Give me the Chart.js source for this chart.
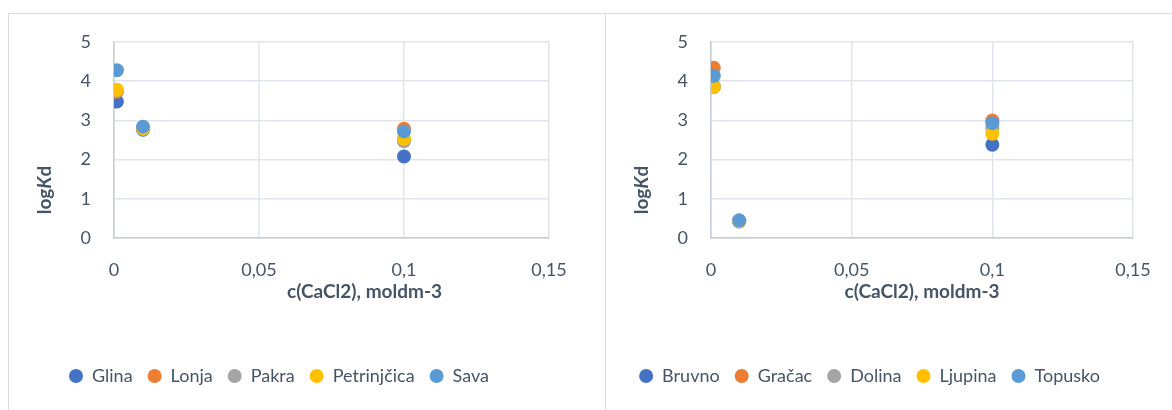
<!DOCTYPE html>
<html lang="hr">
<head>
  <meta charset="UTF-8">
  <title>logKd - c(CaCl2)</title>
  <script src="https://cdn.jsdelivr.net/npm/chart.js"></script>
  <style>
    html, body {
      margin: 0;
      padding: 0;
      background: #fff;
      width: 1172px;
      height: 410px;
      overflow: hidden;
    }
    .box {
      position: absolute;
      top: 13px;
      height: 410px;
      border: 1px solid #d9dce1;
      box-sizing: border-box;
    }
    #boxLeft { left: 8px; width: 598px; }
    #boxRight { left: 605px; width: 580px; }
    .wrap {
      position: relative;
      width: 100%;
      height: 396px;
    }
  </style>
</head>
<body>
  <div class="box" id="boxLeft"><div class="wrap"><canvas id="leftChart"></canvas></div></div>
  <div class="box" id="boxRight"><div class="wrap"><canvas id="rightChart"></canvas></div></div>

  <script>
    // x values (c(CaCl2), moldm-3), shared by both charts
    const xValues = [0.001, 0.01, 0.1];
    const xTicks = [0, 0.05, 0.1, 0.15];
    const xTickLabels = ['0', '0,05', '0,1', '0,15'];
    const yTicks = [0, 1, 2, 3, 4, 5];

    // left chart - rivers
    const leftNames = ['Glina', 'Lonja', 'Pakra', 'Petrinjčica', 'Sava'];
    const glina = [3.48, 2.76, 2.08];
    const lonja = [3.73, 2.80, 2.79];
    const pakra = [3.76, 2.78, 2.47];
    const petrinjcica = [3.78, 2.79, 2.53];
    const sava = [4.28, 2.84, 2.72];

    // right chart - springs
    const rightNames = ['Bruvno', 'Gračac', 'Dolina', 'Ljupina', 'Topusko'];
    const bruvno = [3.86, 0.42, 2.38];
    const gracac = [4.34, 0.43, 3.00];
    const dolina = [3.87, 0.44, 2.80];
    const ljupina = [3.85, 0.43, 2.66];
    const topusko = [4.14, 0.45, 2.93];

    const colors = ['#4472C4', '#ED7D31', '#A5A5A5', '#FFC000', '#5B9BD5'];
    const textColor = '#465468';
    const fontFamily = 'Lato, "Open Sans", sans-serif';

    // axis titles drawn by hand so that K can be italic
    const axisTitles = {
      id: 'axisTitles',
      afterDraw(chart, args, opts) {
        const { ctx, chartArea } = chart;
        ctx.save();
        ctx.fillStyle = textColor;
        ctx.textBaseline = 'middle';

        // x title
        ctx.font = 'bold 19px ' + fontFamily;
        ctx.textAlign = 'center';
        const cx = (chartArea.left + chartArea.right) / 2 + opts.xShift;
        ctx.fillText('c(CaCl2), moldm-3', cx, chartArea.bottom + 54);

        // y title: log K d
        const parts = [
          ['log', 'bold 19px ' + fontFamily],
          ['K', 'italic bold 19px ' + fontFamily],
          ['d', 'bold 19px ' + fontFamily]
        ];
        let total = 0;
        parts.forEach(p => { ctx.font = p[1]; total += ctx.measureText(p[0]).width; });
        ctx.translate(chartArea.left - 69, chartArea.bottom - 48);
        ctx.rotate(-Math.PI / 2);
        ctx.textAlign = 'left';
        let pos = -total / 2;
        parts.forEach(p => {
          ctx.font = p[1];
          ctx.fillText(p[0], pos, 0);
          pos += ctx.measureText(p[0]).width;
        });
        ctx.restore();
      }
    };

    const makeChart = (id, names, series, padRight, xShift) => {
      const datasets = names.map((name, i) => ({
        label: name,
        data: xValues.map((x, j) => ({ x: x, y: series[i][j] })),
        backgroundColor: colors[i],
        borderColor: colors[i],
        borderWidth: 0,
        pointRadius: 7,
        pointHoverRadius: 7,
        order: names.length - i   // last series on top, like Excel
      }));

      return new Chart(document.getElementById(id), {
        type: 'scatter',
        data: { datasets: datasets },
        plugins: [axisTitles],
        options: {
          responsive: true,
          maintainAspectRatio: false,
          animation: false,
          layout: { padding: { top: 28, right: padRight, bottom: 15, left: 0 } },
          plugins: {
            tooltip: { enabled: false },
            axisTitles: { xShift: xShift },
            legend: {
              position: 'bottom',
              labels: {
                usePointStyle: true,
                pointStyle: 'circle',
                pointStyleWidth: 14,
                boxHeight: 10,
                padding: 15,
                color: textColor,
                font: { family: fontFamily, size: 18 },
                sort: (a, b) => a.datasetIndex - b.datasetIndex
              }
            }
          },
          scales: {
            x: {
              type: 'linear',
              min: 0,
              max: 0.15,
              afterBuildTicks: scale => { scale.ticks = xTicks.map(v => ({ value: v })); },
              afterFit: scale => { scale.height = 114; },
              grid: { color: '#e1e4ea', lineWidth: 1.5, drawTicks: false },
              border: { color: '#c8cdd5', width: 1.5 },
              ticks: {
                padding: 21,
                color: textColor,
                font: { family: fontFamily, size: 18 },
                maxRotation: 0,
                callback: (v, i) => xTickLabels[i]
              }
            },
            y: {
              min: 0,
              max: 5,
              afterBuildTicks: scale => { scale.ticks = yTicks.map(v => ({ value: v })); },
              afterFit: scale => { scale.width = 105; },
              grid: {
                color: '#e1e4ea',
                lineWidth: 1.5,
                drawTicks: true,
                tickLength: 17,
                tickColor: 'rgba(0,0,0,0)'
              },
              border: { color: '#c8cdd5', width: 1.5 },
              ticks: {
                padding: 6,
                color: textColor,
                font: { family: fontFamily, size: 18 }
              }
            }
          }
        }
      });
    };

    makeChart('leftChart', leftNames, [glina, lonja, pakra, petrinjcica, sava], 56, 33);
    makeChart('rightChart', rightNames, [bruvno, gracac, dolina, ljupina, topusko], 51, 0);
  </script>
</body>
</html>
